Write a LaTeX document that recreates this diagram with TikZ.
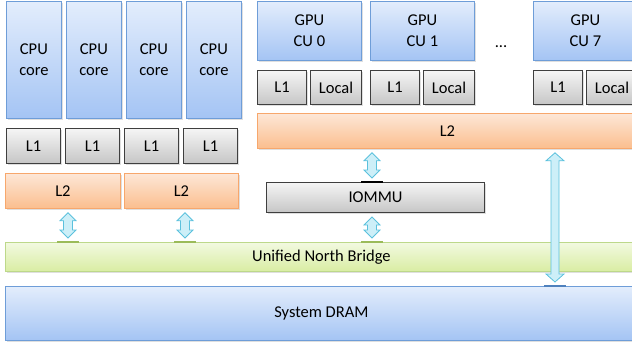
\documentclass[tikz,border=0pt]{standalone}
\usepackage{fontspec}
\setmainfont{Carlito}
\usetikzlibrary{calc,shadows}
\definecolor{blueTop}{HTML}{E3EDFC}
\definecolor{blueBot}{HTML}{A4C4F4}
\definecolor{blueLine}{HTML}{6E9DD8}
\definecolor{grayTop}{HTML}{F5F5F5}
\definecolor{grayBot}{HTML}{C6C6C6}
\definecolor{grayLine}{HTML}{3F3F3F}
\definecolor{orangeTop}{HTML}{FDE7D7}
\definecolor{orangeBot}{HTML}{FBBE8E}
\definecolor{orangeLine}{HTML}{F7A76C}
\definecolor{greenTop}{HTML}{F2F9E0}
\definecolor{greenBot}{HTML}{D9EDA3}
\definecolor{greenLine}{HTML}{BDD88A}
\definecolor{greenPort}{HTML}{9BBB59}
\definecolor{bluePort}{HTML}{4F81BD}
\definecolor{arrowFill}{HTML}{CDEFF8}
\definecolor{arrowLine}{HTML}{5BC1DD}
\tikzset{basic/.style={draw,anchor=north west,inner sep=0pt,align=center,
                       line width=0.8pt,
                       drop shadow={shadow xshift=1.2pt,shadow yshift=-1.2pt,opacity=0.25}}}
\tikzset{core/.style={basic,draw=blueLine,top color=blueTop,bottom color=blueBot}}
\tikzset{cache/.style={basic,draw=grayLine,line width=1pt,top color=grayTop,bottom color=grayBot}}
\tikzset{shared/.style={basic,draw=orangeLine,top color=orangeTop,bottom color=orangeBot}}
\tikzset{bridge/.style={basic,draw=greenLine,top color=greenTop,bottom color=greenBot}}
\tikzset{link/.style={draw=arrowLine,fill=arrowFill,line width=0.8pt}}
\tikzset{port/.style={line width=2pt}}
% double block arrow between two nodes, along a column
\newcommand{\dblarrow}[5]{\draw[link] let \p1=($(#1.south -| #3)+(0,4)$),
                                           \p2=($(#2.north -| #3)+(0,-4)$) in
    (\x1,\y1) -- (\x1+#5,\y1-8pt) -- (\x1+#4,\y1-8pt) -- (\x1+#4,\y2+8pt)
    -- (\x1+#5,\y2+8pt) -- (\x1,\y2) -- (\x1-#5,\y2+8pt) -- (\x1-#4,\y2+8pt)
    -- (\x1-#4,\y1-8pt) -- (\x1-#5,\y1-8pt) -- cycle;}

\begin{document}
\begin{tikzpicture}[x=1pt,y=-1pt,font=\fontsize{16.5}{21.5}\selectfont]
    \useasboundingbox (0,0) rectangle (632,345);
    % Draw CPU cores and their L1 caches
    \foreach \x [count=\i] in {6,66,126,186}{%
          \node[core,minimum width=55pt,minimum height=117pt] (cpu\i) at (\x,1) {CPU\\core};
        }
    \foreach \x [count=\i] in {6,65,124,183}{%
          \node[cache,minimum width=54pt,minimum height=35pt] (cl\i) at (\x,128) {L1};
        }
    % L2 caches of the CPU
    \node[shared,minimum width=115pt,minimum height=35pt] (cl2a) at (5,173) {L2};
    \node[shared,minimum width=114pt,minimum height=35pt] (cl2b) at (124,173) {L2};
    % Draw GPU compute units with L1 and local memory
    \foreach \x/\n in {257/0,370/1,533/7}{%
          \node[core,minimum width=104pt,minimum height=59pt] (cu\n) at (\x,1) {GPU\\CU \n};
          \node[cache,minimum width=49pt,minimum height=34pt] (gl\n) at (\x,70) {L1};
          \node[cache,minimum width=51pt,minimum height=34pt] (loc\n) at (\x+53,70) {Local};
        }
    \node (dots) at (501,47) {...};
    % GPU L2, IOMMU, north bridge and memory
    \node[shared,minimum width=380pt,minimum height=35pt] (gl2) at (257,113) {L2};
    \node[cache,minimum width=218pt,minimum height=30pt] (iommu) at (266,182) {IOMMU};
    \node[bridge,minimum width=632pt,minimum height=29pt] (unb) at (5,242) {Unified North Bridge};
    \node[core,minimum width=632pt,minimum height=54pt] (dram) at (5,286) {System DRAM};
    % Columns of the arrows
    \coordinate (x1) at (68,0);
    \coordinate (x2) at (185,0);
    \coordinate (x3) at (372,0);
    \coordinate (x4) at (555,0);
    % Ports where the arrows meet
    \draw[port,black] (iommu.north -| x3) ++(-11,0) -- ++(22,0);
    \foreach \c in {x1,x2,x3}{%
          \draw[port,greenPort] (unb.north -| \c) ++(-11,0) -- ++(22,0);
        }
    \draw[port,bluePort] (dram.north -| x4) ++(-11,0) -- ++(22,0);
    % Draw arrows
    \dblarrow{cl2a}{unb}{x1}{4.5pt}{8pt}
    \dblarrow{cl2b}{unb}{x2}{4.5pt}{8pt}
    \dblarrow{gl2}{iommu}{x3}{4.5pt}{8pt}
    \dblarrow{iommu}{unb}{x3}{4.5pt}{8pt}
    \dblarrow{gl2}{dram}{x4}{4pt}{9pt}
\end{tikzpicture}
\end{document}
